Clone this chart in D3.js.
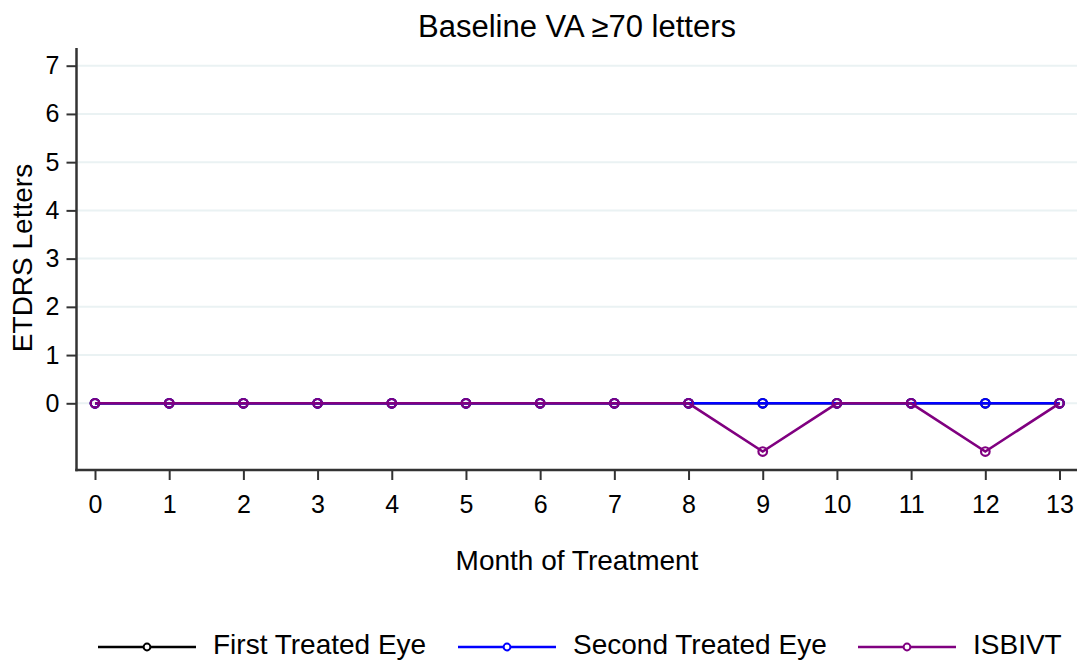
<!DOCTYPE html>
<html><head><meta charset="utf-8">
<script src="https://cdn.jsdelivr.net/npm/d3@7"></script>
<style>body{margin:0;background:#fff}svg{display:block}text{font-family:"Liberation Sans",Arial,sans-serif;fill:#000}</style>
</head><body><svg id="c" width="1077" height="661"></svg>
<script>
const months = [0,1,2,3,4,5,6,7,8,9,10,11,12,13];
const firstTreated = [0,0,0,0,0,0,0,0,0,0,0,0,0,0];
const secondTreated = [0,0,0,0,0,0,0,0,0,0,0,0,0,0];
const isbivt = [0,0,0,0,0,0,0,0,0,-1,0,0,-1,0];
const yTicks = [0,1,2,3,4,5,6,7];
const seriesNames = ["First Treated Eye","Second Treated Eye","ISBIVT"];
const seriesColors = ["#000000","#0000ff","#800080"];

const svg = d3.select("#c");
const x = d3.scaleLinear().domain([0,13]).range([95,1059.5]);
const y = d3.scaleLinear().domain([0,7]).range([403.3,65.7]);
const plotL = 76.5, plotR = 1077, plotT = 48, plotB = 470;

// gridlines
svg.append("g").selectAll("line").data(yTicks).join("line")
  .attr("x1",plotL+1).attr("x2",plotR).attr("y1",d=>y(d)).attr("y2",d=>y(d))
  .attr("stroke","#eaf2f3").attr("stroke-width",2);

// axes
const yAxis = d3.axisLeft(y).tickValues(yTicks).tickSize(10).tickPadding(7).tickFormat(d3.format("d"));
const gy = svg.append("g").attr("transform",`translate(${plotL},0)`).call(yAxis);
gy.select(".domain").remove();
gy.selectAll(".tick line").attr("stroke","#333").attr("stroke-width",2);
gy.selectAll("text").style("font-size","25px").attr("fill","#000");
svg.append("line").attr("x1",plotL).attr("x2",plotL).attr("y1",plotT).attr("y2",plotB+1.2)
  .attr("stroke","#333").attr("stroke-width",2.5);

const xAxis = d3.axisBottom(x).tickValues(months).tickSize(10).tickPadding(15).tickFormat(d3.format("d"));
const gx = svg.append("g").attr("transform",`translate(0,${plotB})`).call(xAxis);
gx.select(".domain").remove();
gx.selectAll(".tick line").attr("stroke","#333").attr("stroke-width",2);
gx.selectAll("text").style("font-size","25px").attr("fill","#000");
svg.append("line").attr("x1",plotL-1.2).attr("x2",plotR).attr("y1",plotB).attr("y2",plotB)
  .attr("stroke","#333").attr("stroke-width",2.5);

// series
const allSeries = [firstTreated, secondTreated, isbivt];
const line = d3.line().x((d,i)=>x(months[i])).y(d=>y(d));
allSeries.forEach((vals,k)=>{
  const g = svg.append("g");
  g.append("path").datum(vals).attr("d",line).attr("fill","none")
    .attr("stroke",seriesColors[k]).attr("stroke-width",2.6);
  g.selectAll("circle").data(vals).join("circle")
    .attr("cx",(d,i)=>x(months[i])).attr("cy",d=>y(d)).attr("r",4.3)
    .attr("fill","none").attr("stroke",seriesColors[k]).attr("stroke-width",2.2);
});

// titles
svg.append("text").attr("x",577).attr("y",37).attr("text-anchor","middle")
  .style("font-size","31px").text("Baseline VA ≥70 letters");
svg.append("text").attr("x",577).attr("y",570).attr("text-anchor","middle")
  .style("font-size","28px").text("Month of Treatment");
svg.append("text").attr("transform","translate(32,258) rotate(-90)").attr("text-anchor","middle")
  .style("font-size","28px").text("ETDRS Letters");

// legend
const legX = [98,458,858];
seriesNames.forEach((name,k)=>{
  const g = svg.append("g").attr("transform",`translate(${legX[k]},647)`);
  g.append("line").attr("x1",0).attr("x2",98).attr("y1",0).attr("y2",0)
    .attr("stroke",seriesColors[k]).attr("stroke-width",2.6);
  g.append("circle").attr("cx",49).attr("cy",0).attr("r",3.4)
    .attr("fill","#fff").attr("stroke",seriesColors[k]).attr("stroke-width",2);
  g.append("text").attr("x",115).attr("y",7).style("font-size","28px").text(name);
});
</script></body></html>
